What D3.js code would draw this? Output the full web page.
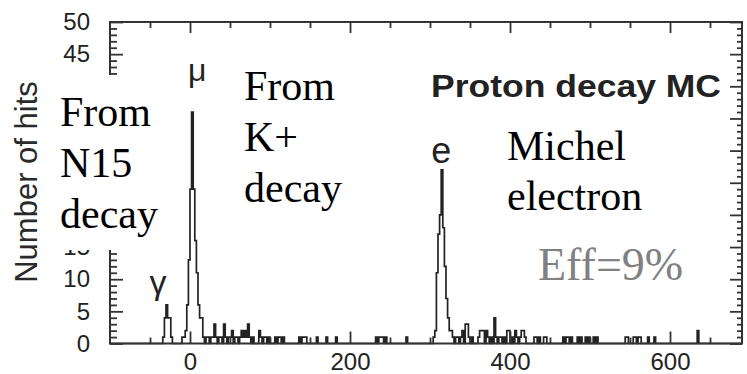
<!DOCTYPE html>
<html>
<head>
<meta charset="utf-8">
<script src="https://cdn.jsdelivr.net/npm/d3@7"></script>
<style>
  html, body { margin: 0; padding: 0; background: #fff; }
  svg { display: block; }
</style>
</head>
<body>
<svg id="chart" width="747" height="374"></svg>
<script>
// Hit-time histogram, 2 ns bins: bin start (ns) and number of hits. Bins not listed are empty.
const binWidth = 2;
const binStarts = [
  -34, -32, -30, -28, -26, -24,
  -10, -8, -6, -4, -2, 0, 2, 4, 6, 8, 10, 12, 14,
  16, 20, 22, 26, 28, 30, 32, 36, 38, 42, 44, 48, 50, 52, 56, 58, 62, 64, 66, 68, 70, 72, 74, 78,
  86, 88, 92, 94, 98,
  106, 110, 112, 116,
  136, 140, 142, 144,
  158, 170, 182,
  232, 236, 238, 240, 244,
  270,
  304, 306, 308, 310, 312, 314, 316, 318, 320, 322, 324, 326, 328, 332, 334, 338, 340, 344, 346, 348, 352,
  360, 362, 364, 366, 370, 372, 376, 380, 382, 386, 388, 392, 396, 398, 402, 406, 408, 412, 414, 416, 418,
  430, 432, 436, 442, 444,
  466, 470, 472, 476,
  484, 488, 494, 498, 504, 508,
  544, 546, 554, 556, 560, 562,
  572, 580,
  634
];
const binHits = [
  1, 4, 6, 4, 4, 1,
  1, 1, 2, 6, 13, 24, 36, 24, 16, 11, 6, 4, 4,
  1, 1, 1, 1, 1, 3, 1, 1, 1, 3, 1, 1, 1, 2, 1, 1, 1, 2, 1, 2, 1, 3, 1, 1,
  2, 1, 1, 1, 1,
  1, 1, 1, 1,
  1, 1, 1, 1,
  1, 1, 1,
  1, 1, 1, 1, 1,
  1,
  1, 2, 11, 17, 20, 27, 18, 12, 7, 4, 2, 2, 1, 1, 1, 1, 2, 3, 3, 1, 1,
  1, 2, 2, 2, 2, 1, 1, 4, 1, 1, 1, 1, 2, 2, 1, 2, 1, 1, 2, 2, 1,
  1, 1, 1, 1, 1,
  1, 1, 1, 1,
  1, 1, 1, 1, 1, 1,
  1, 1, 1, 1, 1, 1,
  1, 1,
  2
];

const xDomain = [-100, 690];
const yDomain = [0, 50];
const xLabelTicks = [0, 200, 400, 600];
const xMinorTicks = [-50, 50, 100, 150, 250, 300, 350, 450, 500, 550, 650];
const yMajorTicks = [0, 5, 10, 15, 20, 25, 30, 35, 40, 45, 50];
// Only these values get a printed label; the others sit under the N15 note box
const yLabelTicks = [0, 5, 10, 15, 45, 50];
const yMinorTicks = d3.range(1, 50).filter(v => v % 5 !== 0);

const sans = "'Liberation Sans', Arial, Helvetica, sans-serif";
const serif = "'Liberation Serif', 'Times New Roman', Times, serif";
const ink = "#222";
const frameColor = "#333";

const svg = d3.select("#chart");
const plotLeft = 110, plotRight = 742, plotTop = 22, plotBottom = 343.5;

const x = d3.scaleLinear().domain(xDomain).range([plotLeft, plotRight]);
const y = d3.scaleLinear().domain(yDomain).range([plotBottom, plotTop]);

// Histogram drawn as a step outline
const hitsByBin = new Map(binStarts.map((t, i) => [t, binHits[i]]));
const bins = d3.range(xDomain[0], xDomain[1], binWidth).map(t => ({ t, n: hitsByBin.get(t) || 0 }));
bins.push({ t: xDomain[1], n: 0 });

const step = d3.line()
  .x(d => x(d.t))
  .y(d => y(d.n))
  .curve(d3.curveStepAfter);

svg.append("path")
  .datum(bins)
  .attr("d", step)
  .attr("fill", "none")
  .attr("stroke", ink)
  .attr("stroke-width", 1.7)
  .attr("stroke-linejoin", "miter");

// Tick marks point into the frame on all four sides
function styleAxis(g) {
  g.select(".domain").remove();
  g.selectAll(".tick line").attr("stroke", frameColor).attr("stroke-width", 1.8);
  g.selectAll(".tick text")
    .attr("fill", ink)
    .style("font-family", sans)
    .style("font-size", "24px");
}

svg.append("g").attr("transform", `translate(0,${plotBottom})`)
  .call(d3.axisBottom(x).tickValues(xLabelTicks).tickSize(-12).tickPadding(9).tickFormat(d3.format("d")))
  .call(styleAxis);
svg.append("g").attr("transform", `translate(0,${plotBottom})`)
  .call(d3.axisBottom(x).tickValues(xMinorTicks).tickSize(-6).tickFormat(""))
  .call(styleAxis);

svg.append("g").attr("transform", `translate(0,${plotTop})`)
  .call(d3.axisTop(x).tickValues(xLabelTicks).tickSize(-11).tickFormat(""))
  .call(styleAxis);
svg.append("g").attr("transform", `translate(0,${plotTop})`)
  .call(d3.axisTop(x).tickValues(xMinorTicks).tickSize(-6).tickFormat(""))
  .call(styleAxis);

svg.append("g").attr("transform", `translate(${plotLeft},0)`)
  .call(d3.axisLeft(y).tickValues(yMajorTicks).tickSize(-13).tickFormat(""))
  .call(styleAxis);
svg.append("g").attr("transform", `translate(${plotLeft},0)`)
  .call(d3.axisLeft(y).tickValues(yLabelTicks).tickSize(0).tickPadding(20).tickFormat(d3.format("d")))
  .call(styleAxis);
svg.append("g").attr("transform", `translate(${plotLeft},0)`)
  .call(d3.axisLeft(y).tickValues(yMinorTicks).tickSize(-7).tickFormat(""))
  .call(styleAxis);

svg.append("g").attr("transform", `translate(${plotRight},0)`)
  .call(d3.axisRight(y).tickValues(yMajorTicks).tickSize(-12).tickFormat(""))
  .call(styleAxis);
svg.append("g").attr("transform", `translate(${plotRight},0)`)
  .call(d3.axisRight(y).tickValues(yMinorTicks).tickSize(-5).tickFormat(""))
  .call(styleAxis);

// Frame
svg.append("rect")
  .attr("x", plotLeft).attr("y", plotTop)
  .attr("width", plotRight - plotLeft).attr("height", plotBottom - plotTop)
  .attr("fill", "none")
  .attr("stroke", frameColor)
  .attr("stroke-width", 2);

// Y axis title
svg.append("text")
  .attr("transform", "translate(37,182) rotate(-90)")
  .attr("text-anchor", "middle")
  .attr("fill", "#2a2a2a")
  .style("font-family", sans)
  .style("font-size", "31px")
  .text("Number of hits");

// Particle labels above the peaks
const particles = [
  { s: "γ", t: -40, base: 294, size: 34 },
  { s: "μ", t: 9, base: 81, size: 32 },
  { s: "e", t: 314, base: 163, size: 36 }
];
svg.selectAll("text.particle").data(particles).enter().append("text")
  .attr("class", "particle")
  .attr("x", d => x(d.t))
  .attr("y", d => d.base)
  .attr("text-anchor", "middle")
  .attr("fill", ink)
  .style("font-family", sans)
  .style("font-size", d => d.size + "px")
  .text(d => d.s);

svg.append("text")
  .attr("x", 431).attr("y", 97)
  .attr("fill", ink)
  .attr("textLength", 290)
  .attr("lengthAdjust", "spacingAndGlyphs")
  .style("font-family", sans)
  .style("font-weight", "bold")
  .style("font-size", "32px")
  .text("Proton decay MC");

// Annotation boxes
svg.append("rect")
  .attr("x", 45).attr("y", 75)
  .attr("width", 122).attr("height", 175)
  .attr("fill", "#fff");

function note(lines, x0, y0, dy, size, color) {
  const t = svg.append("text")
    .attr("fill", color)
    .style("font-family", serif)
    .style("font-size", size + "px");
  lines.forEach((s, i) => {
    t.append("tspan").attr("x", x0).attr("y", y0 + i * dy).text(s);
  });
}
note(["From", "N15", "decay"], 60, 126, 51, 42, "#000");
note(["From", "K+", "decay"], 244, 100, 51, 42, "#000");
note(["Michel", "electron"], 507, 160, 50, 42, "#000");
note(["Eff=9%"], 538, 280, 0, 46, "#808080");
</script>
</body>
</html>
